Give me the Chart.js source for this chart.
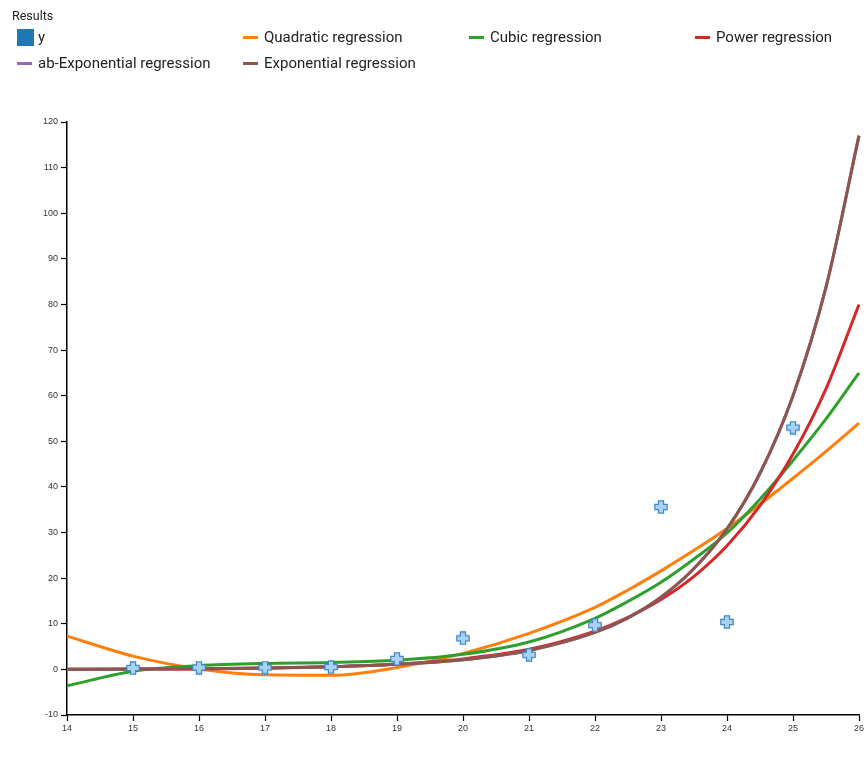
<!DOCTYPE html>
<html>
<head>
<meta charset="utf-8">
<script src="https://cdn.jsdelivr.net/npm/chart.js@4/dist/chart.umd.min.js"></script>
<style>
  html, body { margin: 0; padding: 0; background: #fff; }
  body { width: 867px; height: 758px; position: relative; overflow: hidden; font-family: Roboto, "Liberation Sans", sans-serif; }
  #legend { position: absolute; left: 0; top: 0; width: 867px; height: 80px; color: #222; }
  #legend .title { position: absolute; left: 12px; top: 8px; font-size: 12.5px; }
  #legend .item { position: absolute; font-size: 15px; line-height: 18px; white-space: nowrap; }
  #legend .sw { position: absolute; left: 0; }
  #legend .txt { position: absolute; left: 21px; top: 0; }
  #wrap { position: absolute; left: 0; top: 0; width: 867px; height: 758px; }
</style>
</head>
<body>
<div id="wrap"><canvas id="c" width="867" height="758"></canvas></div>
<div id="legend"></div>
<script>
// ---- data ----
const xValues = [14, 15, 16, 17, 18, 19, 20, 21, 22, 22.5, 23, 23.5, 24, 24.5, 25, 25.5, 26];
const pointX = [15, 16, 17, 18, 19, 20, 21, 22, 23, 24, 25];
const pointY = [0.3, 0.4, 0.4, 0.5, 2.3, 6.8, 3.2, 9.7, 35.6, 10.4, 53.0];
const quadraticY = [7.3, 2.9, 0.1, -1.2, -1.3, 0.4, 3.5, 7.9, 13.6, 17.4, 21.6, 26.1, 30.9, 36.2, 41.9, 47.8, 54.0];
const cubicY = [-3.6, -0.4, 0.8, 1.3, 1.5, 2.0, 3.3, 6.0, 11.2, 14.9, 19.1, 24.2, 29.9, 37.3, 45.8, 54.9, 65.0];
const powerY = [0.02, 0.05, 0.11, 0.26, 0.56, 1.16, 2.3, 4.4, 8.4, 11.4, 15.3, 20.4, 27.1, 35.9, 47.2, 61.5, 80.0];
const abExpY = [0.04, 0.08, 0.15, 0.29, 0.56, 1.1, 2.1, 4.15, 8.1, 11.3, 15.8, 22.1, 30.8, 43.0, 60.0, 83.8, 117.0];
const expY = [0.04, 0.08, 0.15, 0.29, 0.56, 1.1, 2.1, 4.15, 8.1, 11.3, 15.8, 22.1, 30.8, 43.0, 60.0, 83.8, 117.0];
const seriesNames = ["y", "Quadratic regression", "Cubic regression", "Power regression", "ab-Exponential regression", "Exponential regression"];
const seriesColors = ["#1f77b4", "#ff7f0e", "#2ca02c", "#d62728", "#9467bd", "#8c564b"];
const yTicks = { min: -10, max: 120, step: 10 };
const xTicks = { min: 14, max: 26, step: 1 };

// plus-shaped point marker
function plusMarker() {
  const c = document.createElement('canvas');
  c.width = 14; c.height = 14;
  const g = c.getContext('2d');
  const a = 2.6, o = 6.2, m = 7;
  g.beginPath();
  g.moveTo(m - a, m - o); g.lineTo(m + a, m - o); g.lineTo(m + a, m - a);
  g.lineTo(m + o, m - a); g.lineTo(m + o, m + a); g.lineTo(m + a, m + a);
  g.lineTo(m + a, m + o); g.lineTo(m - a, m + o); g.lineTo(m - a, m + a);
  g.lineTo(m - o, m + a); g.lineTo(m - o, m - a); g.lineTo(m - a, m - a);
  g.closePath();
  g.fillStyle = "#a9d1f2";
  g.fill();
  g.lineWidth = 1.2;
  g.strokeStyle = "#3f87c6";
  g.stroke();
  return c;
}

function lineData(ys) { return xValues.map((x, i) => ({ x: x, y: ys[i] })); }
function lineSet(idx, ys, order) {
  return {
    label: seriesNames[idx], data: lineData(ys), type: 'line',
    borderColor: seriesColors[idx], backgroundColor: seriesColors[idx],
    borderWidth: 3, pointRadius: 0, fill: false,
    cubicInterpolationMode: 'monotone', order: order, clip: false
  };
}

const datasets = [
  {
    label: seriesNames[0], type: 'scatter',
    data: pointX.map((x, i) => ({ x: x, y: pointY[i] })),
    pointStyle: plusMarker(), pointRadius: 7, order: 0
  },
  lineSet(1, quadraticY, 5),
  lineSet(2, cubicY, 4),
  lineSet(3, powerY, 3),
  lineSet(4, abExpY, 2),
  lineSet(5, expY, 1)
];

const tickFont = { family: "'Liberation Sans', Arial, sans-serif", size: 9 };

new Chart(document.getElementById('c'), {
  type: 'scatter',
  data: { datasets: datasets },
  options: {
    responsive: false, animation: false,
    layout: { padding: { left: 0, right: 7, top: 122, bottom: 0 } },
    plugins: { legend: { display: false }, tooltip: { enabled: false } },
    scales: {
      x: {
        type: 'linear', min: xTicks.min, max: xTicks.max,
        ticks: { stepSize: xTicks.step, color: '#333', font: tickFont, padding: 2, maxRotation: 0 },
        grid: { drawOnChartArea: false, drawTicks: true, tickLength: 6, color: '#000', tickWidth: 1.2 },
        border: { color: '#000', width: 1.5 },
        afterFit: s => { s.height = 43; }
      },
      y: {
        type: 'linear', min: yTicks.min, max: yTicks.max,
        ticks: { stepSize: yTicks.step, color: '#333', font: tickFont, padding: 3 },
        grid: { drawOnChartArea: false, drawTicks: true, tickLength: 6, color: '#000', tickWidth: 1.2 },
        border: { color: '#000', width: 1.5 },
        afterFit: s => { s.width = 67; }
      }
    }
  }
});

// HTML legend
const legend = document.getElementById('legend');
legend.innerHTML = '<div class="title">Results</div>';
const cols = [17, 243, 469, 695];
seriesNames.forEach((name, i) => {
  const col = i % 4, row = Math.floor(i / 4);
  const it = document.createElement('div');
  it.className = 'item';
  it.style.left = cols[col] + 'px';
  it.style.top = (28 + row * 26) + 'px';
  const sw = document.createElement('div');
  sw.className = 'sw';
  if (i === 0) {
    sw.style.cssText = 'left:0;top:1px;width:17px;height:17px;background:' + seriesColors[i];
  } else {
    sw.style.cssText = 'left:0;top:8px;width:15px;height:3px;background:' + seriesColors[i];
  }
  const t = document.createElement('div');
  t.className = 'txt';
  t.textContent = name;
  it.appendChild(sw); it.appendChild(t);
  legend.appendChild(it);
});
</script>
</body>
</html>
